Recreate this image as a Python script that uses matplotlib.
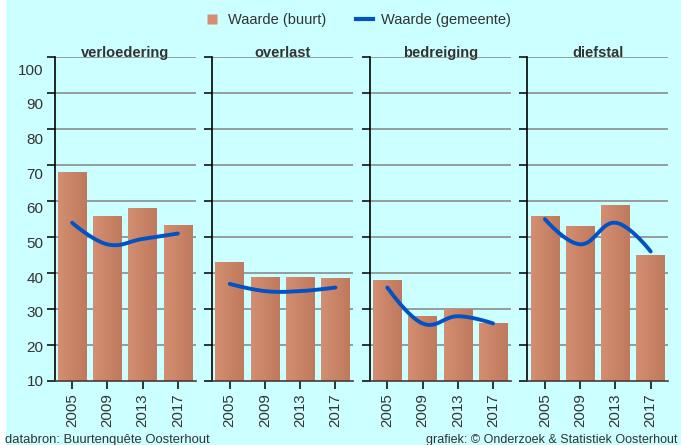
import numpy as np
import matplotlib.pyplot as plt
import matplotlib.transforms as mtransforms
from matplotlib.lines import Line2D
from matplotlib.patches import Rectangle
from matplotlib.colors import LinearSegmentedColormap

plt.rcParams['font.family'] = ['Liberation Sans', 'DejaVu Sans']

# data
years = ['2005', '2009', '2013', '2017']
topics = ['verloedering', 'overlast', 'bedreiging', 'diefstal']
buurt = {
    'verloedering': [68, 56, 58, 53.5],
    'overlast': [43, 39, 39, 38.5],
    'bedreiging': [38, 28, 30, 26],
    'diefstal': [56, 53, 59, 45],
}
gemeente = {
    'verloedering': [54, 48, 49.5, 51],
    'overlast': [37, 35, 35, 36],
    'bedreiging': [36, 26, 28, 26],
    'diefstal': [55, 48, 54, 46],
}

bg = '#ccffff'
bar_light = '#d48e72'
bar_dark = '#bf7a5e'
line_col = '#0352c4'
txt = '#333333'


def spline(xs, ys, smoothing=1.5, steps=40):
    # highcharts-like spline through the points
    n = len(xs)
    lc = [(xs[i], ys[i]) for i in range(n)]
    rc = [(xs[i], ys[i]) for i in range(n)]
    d = smoothing + 1
    for i in range(1, n - 1):
        x, y = xs[i], ys[i]
        lx = (smoothing * x + xs[i - 1]) / d
        ly = (smoothing * y + ys[i - 1]) / d
        rx = (smoothing * x + xs[i + 1]) / d
        ry = (smoothing * y + ys[i + 1]) / d
        corr = ((ry - ly) * (rx - x)) / (rx - lx) + y - ry
        lc[i] = (lx, ly + corr)
        rc[i] = (rx, ry + corr)
    px, py = [], []
    t = np.linspace(0, 1, steps)
    for i in range(n - 1):
        p0 = np.array([xs[i], ys[i]])
        p1 = np.array(rc[i])
        p2 = np.array(lc[i + 1])
        p3 = np.array([xs[i + 1], ys[i + 1]])
        pts = ((1 - t) ** 3)[:, None] * p0 + (3 * (1 - t) ** 2 * t)[:, None] * p1 \
            + (3 * (1 - t) * t ** 2)[:, None] * p2 + (t ** 3)[:, None] * p3
        px.extend(pts[:, 0])
        py.extend(pts[:, 1])
    return px, py


W, H = 681, 445
fig = plt.figure(figsize=(W / 100, H / 100), dpi=100)
fig.patch.set_facecolor('white')
fig.patches.append(Rectangle((6 / W, 0), 1, 1, transform=fig.transFigure,
                             facecolor=bg, edgecolor='none', zorder=-10))

grad = np.linspace(0, 1, 50).reshape(1, -1)
cmap = LinearSegmentedColormap.from_list('bar', [bar_light, bar_dark])

bottom = (H - 381) / H
height = (381 - 57.3) / H
for k, topic in enumerate(topics):
    left = (54.5 + k * 157.6) / W
    ax = fig.add_axes([left, bottom, 141 / W, height])
    ax.set_facecolor('none')
    x = np.arange(len(years))
    bars = ax.bar(x, buurt[topic], width=0.81, bottom=0, color=bar_dark, zorder=2)
    for b in bars:
        im = ax.imshow(grad, cmap=cmap, aspect='auto', zorder=2.1,
                       extent=[b.get_x(), b.get_x() + b.get_width(), 10, b.get_height()])
        im.set_clip_path(b)
    sx, sy = spline(list(x), gemeente[topic])
    ax.plot(sx, sy, color=line_col, lw=2.8, solid_capstyle='round', zorder=3)

    ax.set_xlim(-0.5, 3.5)
    ax.set_ylim(10, 100)
    ax.set_yticks(range(10, 101, 10))
    ax.set_xticks(x)
    ax.set_xticklabels(years, rotation=90)
    for yv in range(20, 101, 10):
        ax.axhline(yv, color='#8c8c8c', lw=1.2, zorder=1)
    for s in ['top', 'right']:
        ax.spines[s].set_visible(False)
    ax.spines['left'].set_color('black')
    ax.spines['left'].set_linewidth(1.2)
    ax.spines['bottom'].set_color('#4a3a35')
    ax.spines['bottom'].set_linewidth(1.2)
    ax.spines['bottom'].set_zorder(4)
    ax.tick_params(direction='out', length=6, width=1.1, color='black',
                   labelcolor=txt)
    ax.tick_params(axis='y', pad=2, labelsize=11)
    ax.tick_params(axis='x', pad=3, labelsize=10.8)
    if k > 0:
        ax.set_yticklabels([])
    else:
        # labels in the reference drift down towards the top
        for val, lab in zip(range(10, 101, 10), ax.get_yticklabels()):
            off = (val - 10) / 90 * 12 / 100
            lab.set_transform(lab.get_transform() +
                              mtransforms.ScaledTranslation(0, -off, fig.dpi_scale_trans))
    # panel title sits on the top gridline
    ax.text(0.5, 1.0, topic, transform=ax.transAxes, ha='center', va='baseline',
            fontsize=10.5, fontweight='bold', color=txt, zorder=5)

handles = [Line2D([], [], marker='s', ls='none', markersize=7,
                  markerfacecolor=bar_light, markeredgecolor='none'),
           Line2D([], [], color=line_col, lw=3)]
fig.legend(handles, ['Waarde (buurt)', 'Waarde (gemeente)'], loc='center',
           bbox_to_anchor=(357 / W, 1 - 20 / H), ncol=2, frameon=False,
           fontsize=10.5, handlelength=1.2, handletextpad=0.5, columnspacing=2.0,
           labelcolor=txt)

fig.text(5 / W, 5 / H, 'databron: Buurtenquête Oosterhout', fontsize=9.4,
         color=txt, va='center', ha='left')
fig.text(677 / W, 5 / H, 'grafiek: © Onderzoek & Statistiek Oosterhout', fontsize=9.0,
         color=txt, va='center', ha='right')

fig.savefig('out.png', dpi=100, facecolor=fig.get_facecolor())
